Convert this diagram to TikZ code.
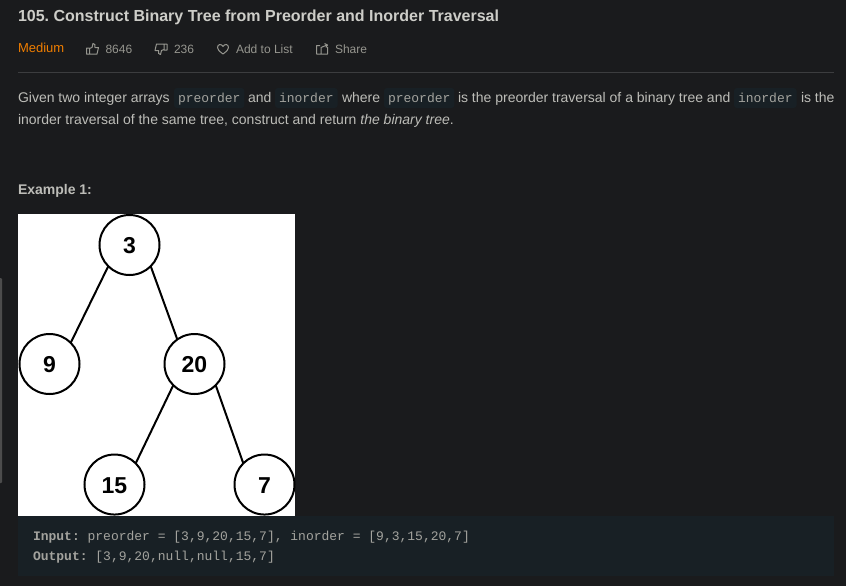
\documentclass[tikz,border=0pt]{standalone}
\usepackage{fontspec}
\setmainfont{Liberation Sans}
\setmonofont{Liberation Mono}
\usepackage{xcolor}
\usetikzlibrary{positioning}
\definecolor{pagebg}{HTML}{1A1B1D}
\definecolor{codebg}{HTML}{182025}
\definecolor{titlefg}{HTML}{CDCDC8}
\definecolor{bodyfg}{HTML}{BDBDB8}
\definecolor{metafg}{HTML}{96968F}
\definecolor{monofg}{HTML}{A3A39E}
\definecolor{levelfg}{HTML}{EF7D00}
\frenchspacing
\begin{document}
\begin{tikzpicture}[
    x=0.75pt, y=-0.75pt,
    txt/.style={anchor=base west, inner sep=0pt, outer sep=0pt, font=\fontsize{10.5pt}{12pt}\selectfont, text=bodyfg},
    meta/.style={txt, font=\fontsize{9pt}{11pt}\selectfont, text=metafg},
    chip/.style={txt, font=\fontsize{9.75pt}{12pt}\ttfamily, text=monofg, fill=codebg, rounded corners=2.25pt, inner xsep=3pt, text height=10.5pt, text depth=4.5pt},
    block/.style={txt, font=\fontsize{9.75pt}{12pt}\ttfamily, text=monofg},
    icon/.style={draw=metafg, line width=0.75pt, line join=round},
    tree/.style={circle, draw=black, fill=white, line width=1.5pt, minimum size=45pt, inner sep=0pt, outer sep=0pt, font=\fontsize{17.25pt}{20pt}\bfseries, text height=13.4pt, text depth=0pt},
    edge/.style={draw=black, line width=1.5pt}
]
    % page
    \useasboundingbox (0,0) rectangle (846,586);
    \fill[pagebg] (0,0) rectangle (846,586);
    \fill[black!70!white, rounded corners=0.75pt] (-2,278) rectangle (2,483);

    % heading
    \node[txt, font=\fontsize{12pt}{14pt}\bfseries\selectfont, text=titlefg] (title) at (18,21) {105. Construct Binary Tree from Preorder and Inorder Traversal};
    \node[txt, font=\fontsize{9.75pt}{12pt}\selectfont, text=levelfg] (level) at (18,52.5) {Medium};
    \node[meta] (likes) at (105.5,53) {8646};
    \node[meta] (dislikes) at (174,53) {236};
    \node[meta] (addlist) at (236,53) {Add to List};
    \node[meta] (share) at (335,53) {Share};

    % icons
    \draw[icon] (86.5,48) rectangle (89.5,54)
        (89.5,48.5) -- (92,47.5) -- (93,43.5) .. controls (95,43.5) and (95.5,45) .. (95,47.5) -- (98.5,47.5) -- (97,54) -- (89.5,54);
    \draw[icon] (167,50) rectangle (164,44)
        (164,49.5) -- (161.5,50.5) -- (160.5,54.5) .. controls (158.5,54.5) and (158,53) .. (158.5,50.5) -- (155,50.5) -- (156.5,44) -- (164,44);
    \draw[icon] (223,54) .. controls (219,51) and (217.5,49.5) .. (217.5,47.5) .. controls (217.5,44) and (221.5,43.5) .. (223,46.5) .. controls (224.5,43.5) and (228.5,44) .. (228.5,47.5) .. controls (228.5,49.5) and (227,51) .. (223,54);
    \draw[icon] (320,45.5) -- (316.5,45.5) -- (316.5,54) -- (327.5,54) -- (327.5,47)
        (321,54) -- (321,47.5) -- (327,45) (324.5,43.5) -- (327.5,45) -- (326,47.5);

    \draw[draw=white!15!pagebg] (18,72.5) -- (834,72.5);

    % description
    \node[txt] (d1) at (18,102) {Given two integer arrays};
    \node[chip] (c1) at (174,102) {preorder};
    \node[txt] (d2) at (248,102) {and};
    \node[chip] (c2) at (275,102) {inorder};
    \node[txt] (d3) at (342,102) {where};
    \node[chip] (c3) at (384,102) {preorder};
    \node[txt] (d4) at (458,102) {is the preorder traversal of a binary tree and};
    \node[chip] (c4) at (734,102) {inorder};
    \node[txt] (d5) at (801,102) {is the};
    \node[txt] (d6) at (18,124) {inorder traversal of the same tree, construct and return \textit{the binary tree}.};
    \node[txt, font=\fontsize{10.5pt}{12pt}\bfseries\selectfont] (ex) at (18,194) {Example 1:};

    % tree
    \fill[white] (18,214) rectangle (295,516);
    \node[tree] (n3) at (129.5,245) {3};
    \node[tree, on grid, below left=89.25pt and 60pt of n3] (n9) {9};
    \node[tree, on grid, below right=89.25pt and 48.75pt of n3] (n20) {20};
    \node[tree, on grid, below left=90.4pt and 60pt of n20] (n15) {15};
    \node[tree, on grid, below right=90.4pt and 52.5pt of n20] (n7) {7};

    \draw[edge] (n3.south west) -- (n9.north east);
    \draw[edge] (n3.south east) -- (n20.125);
    \draw[edge] (n20.south west) -- (n15.north east);
    \draw[edge] (n20.south east) -- (n7.north west);

    % result
    \fill[codebg] (18,516) rectangle (834,576);
    \node[block] (in) at (33,540) {\textbf{Input:} preorder = [3,9,20,15,7], inorder = [9,3,15,20,7]};
    \node[block] (out) at (33,560) {\textbf{Output:} [3,9,20,null,null,15,7]};
\end{tikzpicture}
\end{document}
